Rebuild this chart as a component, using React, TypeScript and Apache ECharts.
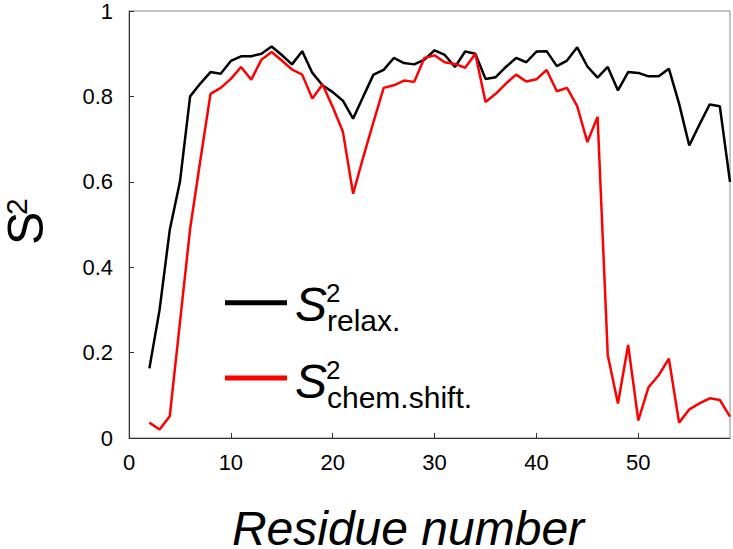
import React, { useEffect, useRef } from "react";
import * as echarts from "echarts";

const residues = [2,3,4,5,6,7,8,9,10,11,12,13,14,15,16,17,18,19,20,21,22,23,24,25,26,27,28,29,30,31,32,33,34,35,36,37,38,39,40,41,42,43,44,45,46,47,48,49,50,51,52,53,54,55,56,57,58,59];
const s2Relax = [0.163,0.30,0.487,0.60,0.80,0.83,0.857,0.853,0.883,0.894,0.894,0.90,0.917,0.897,0.875,0.906,0.855,0.826,0.81,0.79,0.748,0.80,0.851,0.862,0.890,0.878,0.875,0.886,0.908,0.897,0.869,0.905,0.90,0.841,0.845,0.869,0.890,0.880,0.905,0.906,0.871,0.884,0.915,0.870,0.844,0.869,0.814,0.857,0.855,0.847,0.847,0.865,0.783,0.685,0.734,0.781,0.777,0.60];
const s2ChemShift = [0.036,0.020,0.051,0.27,0.49,0.65,0.806,0.820,0.841,0.869,0.839,0.886,0.904,0.884,0.863,0.851,0.795,0.828,0.775,0.717,0.572,0.658,0.74,0.820,0.826,0.837,0.834,0.890,0.896,0.880,0.876,0.867,0.90,0.787,0.806,0.830,0.851,0.835,0.840,0.862,0.812,0.820,0.777,0.693,0.752,0.194,0.081,0.218,0.041,0.119,0.147,0.186,0.036,0.067,0.081,0.093,0.089,0.050];

const xTitle = "Residue number";
const yTitleMain = "S";
const yTitleSup = "2";
const legendSubs = ["relax.", "chem.shift."];
const seriesColors = ["#000000", "#ff0000"];

const FONT = "'Liberation Sans', Arial, Helvetica, sans-serif";

export default function App() {
  const ref = useRef<HTMLDivElement>(null);
  useEffect(() => {
    if (!ref.current) return;
    const chart = echarts.init(ref.current, null, { renderer: "svg" });
    const mk = (ys: number[]) => residues.map((r, i) => [r, ys[i]]);

    const legendItem = (i: number, lineY: number, sBase: number) => [
      {
        type: "line",
        shape: { x1: 225, y1: lineY, x2: 287, y2: lineY },
        style: { stroke: seriesColors[i], lineWidth: 5 },
      },
      {
        type: "text",
        style: {
          text: "S", x: 295, y: sBase - 0.347 * 48, fontSize: 48, fontStyle: "italic", lineHeight: 36,
          fontFamily: FONT, fill: "#000", align: "left", verticalAlign: "middle",
        },
      },
      {
        type: "text",
        style: {
          text: "2", x: 326, y: sBase - 19 - 0.347 * 26, fontSize: 26, lineHeight: 19,
          fontFamily: FONT, fill: "#000", align: "left", verticalAlign: "middle",
        },
      },
      {
        type: "text",
        style: {
          text: legendSubs[i], x: 327, y: sBase + 10 - 0.347 * 30, fontSize: 30, lineHeight: 22,
          fontFamily: FONT, fill: "#000", align: "left", verticalAlign: "middle",
        },
      },
    ];

    chart.setOption({
      animation: false,
      backgroundColor: "#ffffff",
      grid: {
        left: 129, top: 11, right: 3, bottom: 111,
        show: true, borderColor: "#888", borderWidth: 1, backgroundColor: "transparent",
      },
      xAxis: {
        type: "value", min: 0, max: 59, interval: 10,
        axisLine: { show: true, onZero: false, lineStyle: { color: "#333", width: 1 } },
        axisTick: { show: true, inside: true, length: 5, lineStyle: { color: "#333" } },
        axisLabel: { fontSize: 22, color: "#000", fontFamily: FONT, margin: 13, showMaxLabel: false },
        splitLine: { show: false },
      },
      yAxis: {
        type: "value", min: 0, max: 1, interval: 0.2,
        axisLine: { show: true, lineStyle: { color: "#333", width: 1 } },
        axisTick: { show: true, inside: true, length: 5, lineStyle: { color: "#333" } },
        axisLabel: {
          fontSize: 22, color: "#000", fontFamily: FONT, margin: 16,
          formatter: (v: number) => (Math.round(v * 10) / 10).toString(),
        },
        splitLine: { show: false },
      },
      series: [
        {
          type: "line", name: "S2 relax.", data: mk(s2Relax), showSymbol: false,
          lineStyle: { color: seriesColors[0], width: 2.5 }, itemStyle: { color: seriesColors[0] },
        },
        {
          type: "line", name: "S2 chem.shift.", data: mk(s2ChemShift), showSymbol: false,
          lineStyle: { color: seriesColors[1], width: 2.5 }, itemStyle: { color: seriesColors[1] },
        },
      ],
      graphic: [
        ...legendItem(0, 302.7, 321),
        ...legendItem(1, 378, 398),
        {
          type: "text",
          style: {
            text: xTitle, x: 408, y: 545 - 0.347 * 48, fontSize: 48, fontStyle: "italic", lineHeight: 36,
            fontFamily: FONT, fill: "#000", align: "center", verticalAlign: "middle",
          },
        },
        {
          type: "group", x: 43, y: 245, rotation: Math.PI / 2,
          children: [
            {
              type: "text",
              style: {
                text: yTitleMain, x: 0, y: -0.347 * 50, fontSize: 50, lineHeight: 38,
                fontFamily: FONT, fill: "#000", align: "left", verticalAlign: "middle",
              },
            },
            {
              type: "text",
              style: {
                text: yTitleSup, x: 30, y: -16 - 0.347 * 30, fontSize: 30, lineHeight: 22,
                fontFamily: FONT, fill: "#000", align: "left", verticalAlign: "middle",
              },
            },
          ],
        },
      ],
    });
    return () => chart.dispose();
  }, []);
  return (
    <div
      ref={ref}
      style={{ position: "fixed", left: 0, top: 0, width: 733, height: 549 }}
    />
  );
}
